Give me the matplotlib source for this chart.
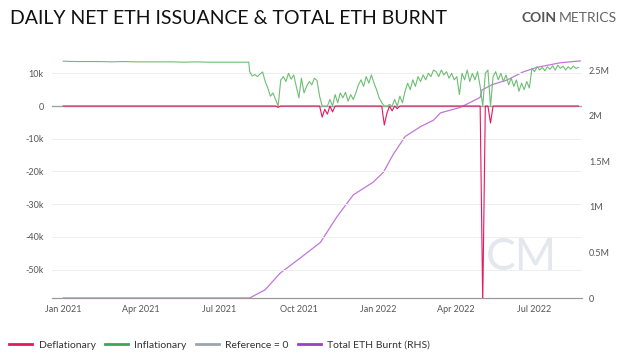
import numpy as np
import pandas as pd
import matplotlib
matplotlib.use('Agg')
import matplotlib.pyplot as plt
from matplotlib.lines import Line2D
from matplotlib.ticker import FuncFormatter

# Datos: emisión neta diaria antes de London (cada 14 días, en miles de ETH)
pre_dates = pd.date_range('2021-01-01', periods=16, freq='14D').append(pd.DatetimeIndex(['2021-08-04']))
pre_net = [13.7, 13.6, 13.6, 13.6, 13.5, 13.6, 13.5, 13.5, 13.5, 13.5, 13.4, 13.5, 13.4, 13.4, 13.4, 13.4, 13.4]

# Emisión neta después de London (cada 3 días, en miles de ETH)
post_dates = pd.date_range('2021-08-05', periods=128, freq='3D')
post_net = [10.5, 9.2, 9.6, 9.0, 9.8, 10.4, 7.5, 5.5, 3.0, 4.0,
            2.0, -0.4, 8.0, 9.0, 7.5, 10.0, 8.2, 9.5, 6.0, 2.5,
            8.5, 4.0, 6.0, 7.5, 6.5, 8.5, 7.8, 3.0, -3.4, -1.0,
            -2.5, 2.0, -1.8, 3.5, 1.0, 4.0, 2.5, 4.2, 1.5, 3.5,
            2.0, 4.0, 6.5, 8.0, 6.0, 9.0, 7.0, 9.5, 7.0, 5.0,
            2.5, 1.0, -5.8, -2.2, 0.5, -1.5, 2.0, -0.8, 3.0, 1.0,
            4.5, 7.0, 5.0, 8.0, 6.0, 9.0, 7.5, 9.5, 8.0, 10.0,
            9.0, 11.0, 10.5, 9.0, 11.0, 9.5, 10.5, 8.5, 10.0, 8.0,
            9.0, 3.5, 10.0, 8.0, 11.0, 7.5, 10.0, 8.0, 10.5, 6.0,
            -60.0, 10.0, 11.0, -5.2, 9.0, 10.5, 8.0, 10.0, 7.5, 9.5,
            6.5, 8.5, 6.0, 8.0, 4.5, 7.0, 5.0, 7.5, 5.5, 11.5,
            10.5, 12.0, 11.0, 11.8, 10.8, 12.0, 11.2, 12.3, 11.0, 12.5,
            11.5, 12.2, 11.0, 12.0, 11.3, 12.2, 11.5, 11.8]

# ETH quemado acumulado (millones)
burn_dates = pd.to_datetime(['2021-01-01', '2021-08-05', '2021-08-23', '2021-09-09', '2021-09-30',
                             '2021-10-26', '2021-11-14', '2021-12-03', '2021-12-26', '2022-01-07',
                             '2022-01-18', '2022-02-01', '2022-02-19', '2022-03-06', '2022-03-14',
                             '2022-04-06', '2022-04-29', '2022-05-01', '2022-05-13', '2022-05-30',
                             '2022-06-18', '2022-07-04', '2022-07-31', '2022-08-23'])
burn_total = [0, 0, 0.09, 0.27, 0.42, 0.61, 0.89, 1.13, 1.27, 1.38, 1.57, 1.77, 1.88,
              1.95, 2.03, 2.09, 2.20, 2.28, 2.34, 2.39, 2.48, 2.53, 2.58, 2.60]

xtick_dates = pd.to_datetime(['2021-01-01', '2021-04-01', '2021-07-01', '2021-10-01',
                              '2022-01-01', '2022-04-01', '2022-07-01'])
xtick_labels = ['Jan 2021', 'Apr 2021', 'Jul 2021', 'Oct 2021', 'Jan 2022', 'Apr 2022', 'Jul 2022']

dates = pre_dates.append(post_dates)
net = np.array(pre_net + post_net) * 1000
burnt = np.array(burn_total) * 1e6

red = '#e8175d'
green = '#6cbf72'
grey = '#9aa5b1'
purple = '#c277d6'
txt = '#555555'

plt.rcParams['font.family'] = ['Lato', 'DejaVu Sans']

fig = plt.figure(figsize=(6.26, 3.59), dpi=100)
ax = fig.add_axes([52 / 626, 1 - 298 / 359, 530 / 626, 238 / 359])
ax2 = ax.twinx()

ax.set_zorder(ax2.get_zorder() + 1)
ax.patch.set_visible(False)

ax.axhline(0, color=grey, lw=1, zorder=1)
ax.plot(dates, np.maximum(net, 0), color=green, lw=0.8, zorder=2)
ax.plot(dates, np.minimum(net, 0), color=red, lw=0.8, zorder=3)
ax2.plot(burn_dates, burnt, color=purple, lw=0.9)

ax.set_xlim(pd.Timestamp('2020-12-19'), pd.Timestamp('2022-08-25'))
ax.set_ylim(-58700, 14070)
ax2.set_ylim(0, 2.61e6)

ax.set_yticks([-50000, -40000, -30000, -20000, -10000, 0, 10000])
ax.yaxis.set_major_formatter(FuncFormatter(lambda v, p: '0' if v == 0 else '%dk' % (v / 1000)))
ax2.set_yticks([0, 0.5e6, 1e6, 1.5e6, 2e6, 2.5e6])
ax2.set_yticklabels(['0', '0.5M', '1M', '1.5M', '2M', '2.5M'])
ax.set_xticks(xtick_dates)
ax.set_xticklabels(xtick_labels)

ax.grid(axis='y', color='#eeeeee', lw=0.7)
ax.set_axisbelow(True)
for a in (ax, ax2):
    for s in ('top', 'left', 'right'):
        a.spines[s].set_visible(False)
    a.spines['bottom'].set_color('#999999')
    a.tick_params(length=0, labelsize=6.5, colors=txt)
ax.tick_params(axis='x', pad=5)
ax.tick_params(axis='y', pad=6)
ax2.tick_params(axis='y', pad=5)

# Marca de agua
ax.text(0.885, 0.17, 'CM', transform=ax.transAxes, fontsize=32, color='#e4e7ee',
        ha='center', va='center', zorder=0)

fig.text(10 / 626, 1 - 18 / 359, 'DAILY NET ETH ISSUANCE & TOTAL ETH BURNT', fontsize=14,
         color='#111111', va='center', ha='left')
fig.text(521 / 626, 1 - 18 / 359, 'COIN', fontsize=10, fontweight='bold', color='#555555', va='center')
fig.text(559 / 626, 1 - 18 / 359, 'METRICS', fontsize=10, color='#666666', va='center')

handles = [Line2D([], [], color=red, lw=2),
           Line2D([], [], color='#3fa45b', lw=2),
           Line2D([], [], color=grey, lw=2),
           Line2D([], [], color='#9c3fc4', lw=2)]
fig.legend(handles, ['Deflationary', 'Inflationary', 'Reference = 0', 'Total ETH Burnt (RHS)'],
           loc='center left', bbox_to_anchor=(0.0, 1 - 345 / 359), ncol=4, frameon=False,
           fontsize=7.5, handlelength=2.2, columnspacing=0.9, handletextpad=0.6,
           labelcolor='#333333')

fig.savefig('out.png', dpi=100)
